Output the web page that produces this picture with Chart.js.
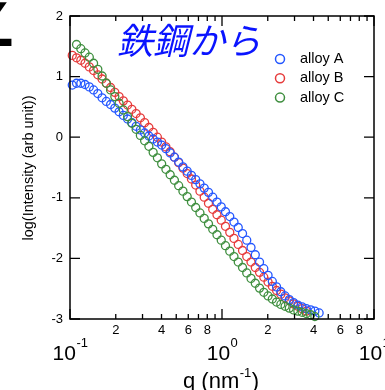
<!DOCTYPE html>
<html>
<head>
<meta charset="utf-8">
<script src="https://cdn.jsdelivr.net/npm/chart.js@4.4.1/dist/chart.umd.min.js"></script>
<style>
  body { margin: 0; background: #fff; }
  canvas { display: block; }
</style>
</head>
<body>
<canvas id="myChart" width="385" height="390"></canvas>
<script>
'use strict'

// q values (nm^-1), shared by all three curves
const qValues = [
  0.1035, 0.1104, 0.1178, 0.1256, 0.1340, 0.1429, 0.1524, 0.1626, 0.1734, 0.1849,
  0.1972, 0.2104, 0.2244, 0.2393, 0.2553, 0.2723, 0.2904, 0.3097, 0.3304, 0.3524,
  0.3758, 0.4009, 0.4276, 0.4560, 0.4864, 0.5188, 0.5534, 0.5902, 0.6295, 0.6714,
  0.7161, 0.7638, 0.8147, 0.8690, 0.9268, 0.9886, 1.054, 1.125, 1.199, 1.279,
  1.365, 1.455, 1.552, 1.656, 1.766, 1.884, 2.009, 2.143, 2.286, 2.438,
  2.600, 2.773, 2.958, 3.155, 3.365, 3.589, 3.828, 4.083, 4.355
];

// log(Intensity)
const alloyA = [
  0.86, 0.89, 0.89, 0.87, 0.83, 0.78, 0.72, 0.65, 0.59, 0.54,
  0.48, 0.42, 0.36, 0.30, 0.24, 0.18, 0.12, 0.07, 0.02, -0.03,
  -0.08, -0.13, -0.19, -0.26, -0.33, -0.41, -0.49, -0.56, -0.63, -0.70,
  -0.77, -0.84, -0.91, -0.99, -1.07, -1.15, -1.23, -1.31, -1.40, -1.49,
  -1.59, -1.70, -1.82, -1.94, -2.06, -2.17, -2.28, -2.38, -2.47, -2.55,
  -2.62, -2.68, -2.73, -2.77, -2.80, -2.83, -2.85, -2.87, -2.90
];
const alloyB = [
  1.35, 1.31, 1.27, 1.22, 1.16, 1.10, 1.03, 0.96, 0.89, 0.82,
  0.74, 0.67, 0.60, 0.53, 0.46, 0.39, 0.32, 0.24, 0.16, 0.08,
  0.00, -0.08, -0.16, -0.24, -0.33, -0.42, -0.51, -0.60, -0.69, -0.79,
  -0.89, -0.99, -1.09, -1.19, -1.28, -1.37, -1.47, -1.57, -1.67, -1.77,
  -1.87, -1.97, -2.06, -2.15, -2.23, -2.31, -2.39, -2.46, -2.53, -2.59,
  -2.65, -2.70, -2.75, -2.79, -2.83, -2.87
];
const alloyC = [
  null, 1.53, 1.46, 1.39, 1.32, 1.22, 1.12, 1.01, 0.89, 0.78,
  0.67, 0.56, 0.45, 0.34, 0.23, 0.13, 0.03, -0.06, -0.15, -0.25,
  -0.34, -0.44, -0.53, -0.62, -0.71, -0.80, -0.89, -0.98, -1.07, -1.16,
  -1.25, -1.34, -1.43, -1.52, -1.61, -1.70, -1.79, -1.88, -1.97, -2.06,
  -2.15, -2.24, -2.33, -2.41, -2.49, -2.56, -2.62, -2.67, -2.72, -2.76,
  -2.79, -2.82, -2.85, -2.87, -2.89, -2.91, -2.93, -2.96
];

const seriesNames = ['alloy A', 'alloy B', 'alloy C'];
const seriesColors = ['#2457ff', '#e63b3b', '#3e8e3e'];

// tick labels
const yTicks = [-3, -2, -1, 0, 1, 2];
const xDecades = [0.1, 1, 10];
const xDecadeExps = ['-1', '0', '1'];
const xMinorSteps = [2, 3, 4, 5, 6, 7, 8, 9];
const xMinorLabelled = [2, 4, 6, 8];

const titleText = '鉄鋼から';
const yTitle = 'log(Intensity (arb unit))';

const FONT = '"Liberation Sans", Arial, Helvetica, sans-serif';

function makePoints(values){
  let points = [];
  for (let i = 0; i < values.length; i++){
    if (values[i] !== null){
      points.push({x: qValues[i], y: values[i]});
    }
  }
  return points;
}

// frame, inward ticks, labels, legend, titles
const decorations = {
  id: 'decorations',
  afterDraw(chart){
    const ctx = chart.ctx;
    const area = chart.chartArea;
    const xs = chart.scales.x;
    const ys = chart.scales.y;
    ctx.save();
    ctx.strokeStyle = '#000';
    ctx.fillStyle = '#000';
    ctx.lineWidth = 1.5;
    ctx.strokeRect(area.left, area.top, area.right - area.left, area.bottom - area.top);

    ctx.lineWidth = 1.3;
    ctx.beginPath();
    for (let d = 0; d < xDecades.length; d++){
      let x = xs.getPixelForValue(xDecades[d]);
      ctx.moveTo(x, area.bottom); ctx.lineTo(x, area.bottom - 10);
      ctx.moveTo(x, area.top); ctx.lineTo(x, area.top + 10);
      if (d === xDecades.length - 1) break;
      for (let m of xMinorSteps){
        let xm = xs.getPixelForValue(xDecades[d] * m);
        ctx.moveTo(xm, area.bottom); ctx.lineTo(xm, area.bottom - 5);
        ctx.moveTo(xm, area.top); ctx.lineTo(xm, area.top + 5);
      }
    }
    for (let t of yTicks){
      let y = ys.getPixelForValue(t);
      ctx.moveTo(area.left, y); ctx.lineTo(area.left + 10, y);
      ctx.moveTo(area.right, y); ctx.lineTo(area.right - 10, y);
    }
    ctx.stroke();

    // y tick labels
    ctx.font = '13px ' + FONT;
    ctx.textAlign = 'right';
    ctx.textBaseline = 'middle';
    for (let t of yTicks){
      ctx.fillText(String(t), area.left - 7, ys.getPixelForValue(t));
    }

    // minor x labels
    ctx.textAlign = 'center';
    for (let d = 0; d < xDecades.length - 1; d++){
      for (let m of xMinorLabelled){
        ctx.fillText(String(m), xs.getPixelForValue(xDecades[d] * m), area.bottom + 11);
      }
    }

    // decade labels 10^n
    ctx.textAlign = 'left';
    ctx.textBaseline = 'alphabetic';
    for (let d = 0; d < xDecades.length; d++){
      ctx.font = '21px ' + FONT;
      let w1 = ctx.measureText('10').width;
      ctx.font = '13px ' + FONT;
      let w2 = ctx.measureText(xDecadeExps[d]).width;
      let x0 = xs.getPixelForValue(xDecades[d]) - (w1 + w2) / 2;
      ctx.font = '21px ' + FONT;
      ctx.fillText('10', x0, area.bottom + 41);
      ctx.font = '13px ' + FONT;
      ctx.fillText(xDecadeExps[d], x0 + w1 + 0.5, area.bottom + 28);
    }

    // x title q (nm^-1)
    ctx.font = '22px ' + FONT;
    let xt = 183;
    ctx.fillText('q (nm', xt, 388);
    xt += ctx.measureText('q (nm').width;
    ctx.font = '13px ' + FONT;
    ctx.fillText('-1', xt + 0.5, 377);
    xt += ctx.measureText('-1').width + 1;
    ctx.font = '22px ' + FONT;
    ctx.fillText(')', xt, 388);

    // y title
    ctx.save();
    ctx.translate(33, 168);
    ctx.rotate(-Math.PI / 2);
    ctx.font = '14.5px ' + FONT;
    ctx.textAlign = 'center';
    ctx.fillText(yTitle, 0, 0);
    ctx.restore();

    // legend
    ctx.font = '14.5px ' + FONT;
    ctx.textBaseline = 'middle';
    ctx.textAlign = 'left';
    chart.data.datasets.forEach(function(ds, i){
      let ly = 59 + i * 19.3;
      ctx.beginPath();
      ctx.strokeStyle = ds.borderColor;
      ctx.lineWidth = 1.5;
      ctx.arc(280, ly, 4.5, 0, Math.PI * 2);
      ctx.stroke();
      ctx.fillStyle = '#000';
      ctx.fillText(ds.label, 300, ly);
    });

    // blue annotation
    ctx.fillStyle = '#0a14ff';
    ctx.font = 'italic 36px "Noto Sans CJK JP", sans-serif';
    ctx.textBaseline = 'middle';
    ctx.fillText(titleText, 117, 40);

    // cropped glyph at the top-left corner
    ctx.fillStyle = '#000';
    ctx.font = 'bold 60px "DejaVu Sans", sans-serif';
    ctx.textBaseline = 'alphabetic';
    ctx.textAlign = 'right';
    ctx.fillText('∠', 16, 46);
    ctx.restore();
  }
};

const ctx = document.getElementById('myChart').getContext('2d');

const myChart = new Chart(ctx, {
  type: 'scatter',
  data: {
    datasets: [
      {
        label: seriesNames[0],
        data: makePoints(alloyA),
        borderColor: seriesColors[0],
        backgroundColor: 'rgba(0,0,0,0)',
        pointRadius: 4,
        pointBorderWidth: 1.3,
        showLine: false,
        clip: false,
        order: 1
      },
      {
        label: seriesNames[1],
        data: makePoints(alloyB),
        borderColor: seriesColors[1],
        backgroundColor: 'rgba(0,0,0,0)',
        pointRadius: 4,
        pointBorderWidth: 1.3,
        showLine: false,
        clip: false,
        order: 2
      },
      {
        label: seriesNames[2],
        data: makePoints(alloyC),
        borderColor: seriesColors[2],
        backgroundColor: 'rgba(0,0,0,0)',
        pointRadius: 4,
        pointBorderWidth: 1.3,
        showLine: false,
        clip: false,
        order: 0
      }
    ]
  },
  options: {
    responsive: false,
    animation: false,
    layout: {padding: {left: 70, right: 11, top: 16, bottom: 71}},
    scales: {
      x: {type: 'logarithmic', min: 0.1, max: 10, display: false},
      y: {type: 'linear', min: -3, max: 2, display: false}
    },
    plugins: {
      legend: {display: false},
      tooltip: {enabled: false}
    }
  },
  plugins: [decorations]
});
</script>
</body>
</html>
